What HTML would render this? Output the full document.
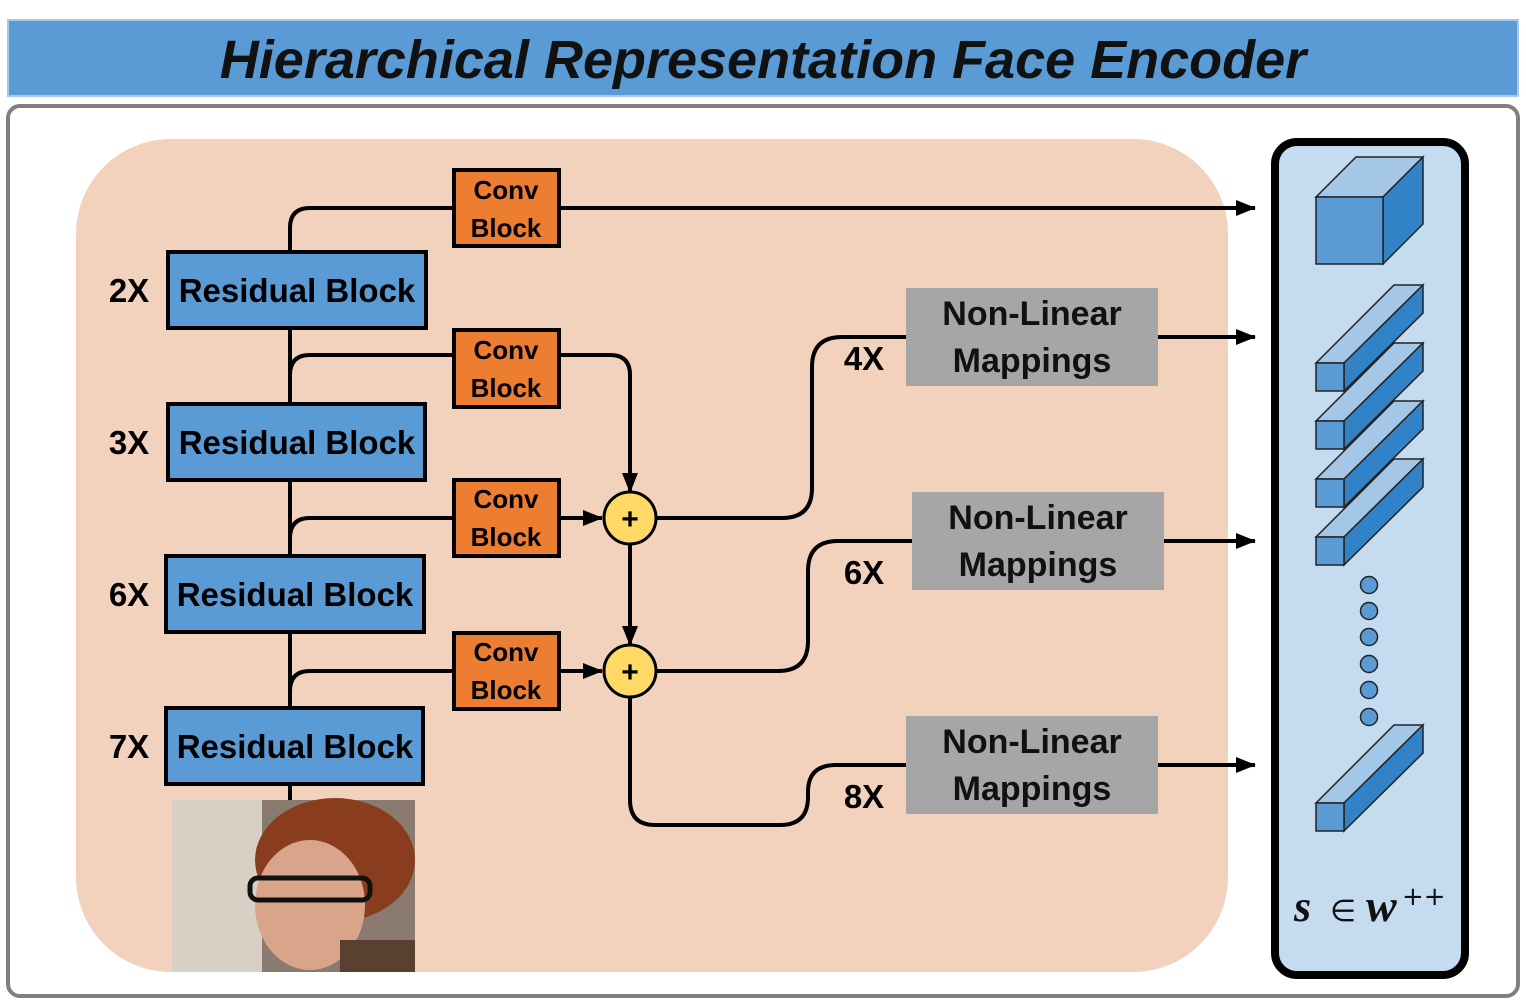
<!DOCTYPE html>
<html><head><meta charset="utf-8"><style>
body{margin:0;width:1526px;height:1005px;background:#fff;overflow:hidden}
svg{display:block}
text{font-family:"Liberation Sans",sans-serif;font-weight:bold}
</style></head><body>
<svg width="1526" height="1005" viewBox="0 0 1526 1005">
<defs>
<marker id="b" markerWidth="20" markerHeight="16" refX="19" refY="8" orient="auto" markerUnits="userSpaceOnUse"><path d="M0,0 L20,8 L0,16z" fill="#000"/></marker></defs>
<rect x="8" y="20" width="1510" height="76" fill="#5b9bd5" stroke="#a8c8e8" stroke-width="2"/>
<text x="763" y="78" text-anchor="middle" font-size="54" font-style="italic" fill="#111">Hierarchical Representation Face Encoder</text>
<rect x="8" y="106" width="1510" height="890" rx="12" fill="#fff" stroke="#808080" stroke-width="4"/>
<rect x="76" y="139" width="1152" height="833" rx="95" fill="#f2d1bd"/>
<g stroke="#000" stroke-width="4" fill="none">
<path d="M290,252 V228 Q290,208 310,208 H454"/>
<path d="M290,328 V404 M290,480 V556 M290,632 V708 M290,784 V800"/>
<path d="M290,375 Q290,355 310,355 H454"/>
<path d="M290,538 Q290,518 310,518 H454"/>
<path d="M290,691 Q290,671 310,671 H454"/>
<path d="M559,208 H1255" marker-end="url(#b)"/>
<path d="M559,355 H610 Q630,355 630,375 V492" marker-end="url(#b)"/>
<path d="M559,518 H602" marker-end="url(#b)"/>
<path d="M559,671 H602" marker-end="url(#b)"/>
<path d="M630,544 V645" marker-end="url(#b)"/>
<path d="M656,518 H782 Q812,518 812,488 V367 Q812,337 842,337 H906"/>
<path d="M656,671 H778 Q808,671 808,641 V571 Q808,541 838,541 H912"/>
<path d="M630,697 V800 Q630,825 655,825 H780 Q808,825 808,797 V792 Q808,765 836,765 H906"/>
<path d="M1158,337 H1255" marker-end="url(#b)"/>
<path d="M1164,541 H1255" marker-end="url(#b)"/>
<path d="M1158,765 H1255" marker-end="url(#b)"/>
</g>
<g stroke="#000" stroke-width="4" fill="#5b9bd5">
<rect x="168" y="252" width="258" height="76"/><rect x="168" y="404" width="257" height="76"/>
<rect x="166" y="556" width="258" height="76"/><rect x="166" y="708" width="257" height="76"/>
</g>
<g font-size="33" fill="#000" text-anchor="middle">
<text x="297" y="302">Residual Block</text><text x="297" y="454">Residual Block</text>
<text x="295" y="606">Residual Block</text><text x="295" y="758">Residual Block</text>
<text x="129" y="302">2X</text><text x="129" y="454">3X</text><text x="129" y="606">6X</text><text x="129" y="758">7X</text>
<text x="864" y="370">4X</text><text x="864" y="584">6X</text><text x="864" y="808">8X</text>
</g>
<g stroke="#000" stroke-width="4" fill="#ed7d31">
<rect x="454" y="170" width="105" height="76"/><rect x="454" y="330" width="105" height="77"/>
<rect x="454" y="480" width="105" height="76"/><rect x="454" y="633" width="105" height="76"/>
</g>
<g font-size="26" text-anchor="middle" fill="#000">
<text x="506" y="199">Conv</text><text x="506" y="237">Block</text>
<text x="506" y="359">Conv</text><text x="506" y="397">Block</text>
<text x="506" y="508">Conv</text><text x="506" y="546">Block</text>
<text x="506" y="661">Conv</text><text x="506" y="699">Block</text>
</g>
<g stroke="#000" stroke-width="3" fill="#ffd966"><circle cx="630" cy="518" r="26"/><circle cx="630" cy="671" r="26"/></g>
<g font-size="30" text-anchor="middle"><text x="630" y="529">+</text><text x="630" y="682">+</text></g>
<g fill="#a6a6a6"><rect x="906" y="288" width="252" height="98"/><rect x="912" y="492" width="252" height="98"/><rect x="906" y="716" width="252" height="98"/></g>
<g font-size="34" text-anchor="middle" fill="#111">
<text x="1032" y="325">Non-Linear</text><text x="1032" y="372">Mappings</text>
<text x="1038" y="529">Non-Linear</text><text x="1038" y="576">Mappings</text>
<text x="1032" y="753">Non-Linear</text><text x="1032" y="800">Mappings</text>
</g>
<rect x="172" y="800" width="243" height="172" fill="#8a7a70"/>
<rect x="172" y="800" width="90" height="172" fill="#d8d0c4"/>
<ellipse cx="335" cy="860" rx="80" ry="62" fill="#8a3d1e"/>
<ellipse cx="310" cy="905" rx="55" ry="65" fill="#d9a58a"/>
<rect x="250" y="878" width="120" height="22" fill="none" stroke="#111" stroke-width="5" rx="8"/>
<rect x="340" y="940" width="75" height="32" fill="#5a4030"/>
<rect x="1275" y="142" width="190" height="833" rx="22" fill="#c5dcf0" stroke="#000" stroke-width="8"/>
<g stroke="#222" stroke-width="1.5">
<path d="M1316,197 L1356,157 H1423 L1383,197z" fill="#a4c7e8"/><path d="M1383,197 L1423,157 V224 L1383,264z" fill="#3282c8"/><rect x="1316" y="197" width="67" height="67" fill="#5b9bd5"/>
<g id="bar"><path d="M1316,363 L1394,285 H1423 L1344,363z" fill="#a4c7e8"/><path d="M1344,363 L1423,285 V313 L1344,391z" fill="#3282c8"/><rect x="1316" y="363" width="28" height="28" fill="#5b9bd5"/></g>
<use href="#bar" y="58"/><use href="#bar" y="116"/><use href="#bar" y="174"/><use href="#bar" y="440"/>
<g fill="#5b9bd5"><circle cx="1369" cy="585" r="8.5"/><circle cx="1369" cy="611" r="8.5"/><circle cx="1369" cy="637" r="8.5"/><circle cx="1369" cy="664" r="8.5"/><circle cx="1369" cy="690" r="8.5"/><circle cx="1369" cy="717" r="8.5"/></g>
</g>
<text x="1294" y="921" style="font-family:'Liberation Serif',serif;font-size:44px;font-style:italic;font-weight:bold" fill="#111">s</text>
<text x="1330" y="921" style="font-family:'DejaVu Sans',sans-serif;font-size:30px;font-weight:normal" fill="#111">∈</text>
<text x="1366" y="921" style="font-family:'Liberation Serif',serif;font-size:46px;font-style:italic;font-weight:bold" fill="#111">w</text>
<text x="1402" y="905" style="font-family:'DejaVu Sans',sans-serif;font-size:26px;font-weight:normal" fill="#111">++</text>
</svg>
</body></html>
